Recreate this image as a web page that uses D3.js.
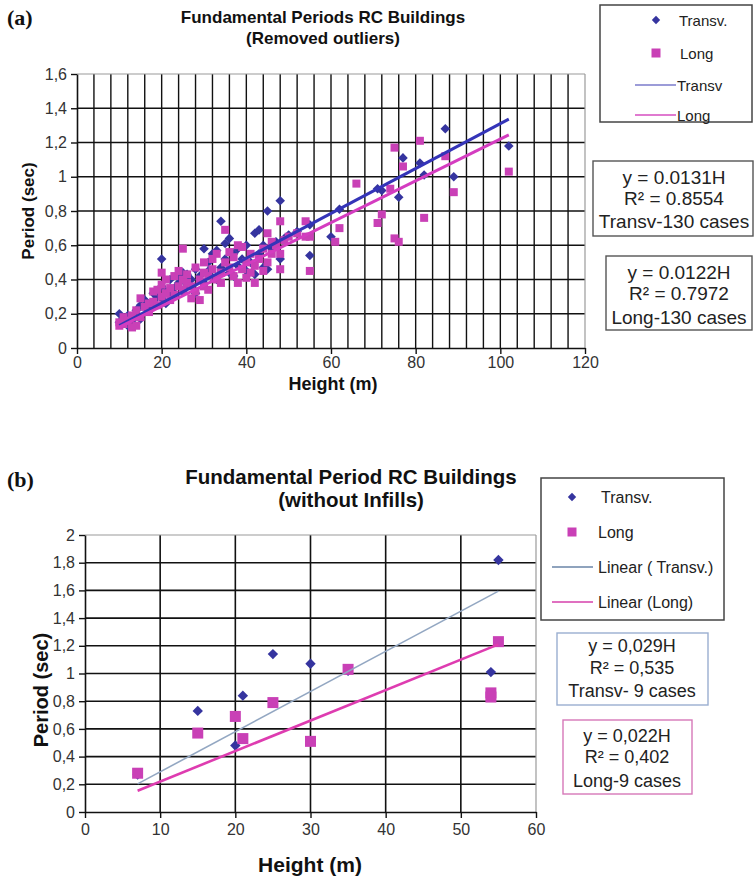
<!DOCTYPE html>
<html><head><meta charset="utf-8">
<script src="https://cdn.jsdelivr.net/npm/d3@7/dist/d3.min.js"></script>
<style>body{margin:0;background:#fff}</style>
</head><body>
<script>
// ---------- Panel (a): 130 buildings, outliers removed ----------
const transvA = [
  [10,0.20],[10,0.15],[11,0.17],[12,0.13],[12,0.19],[13,0.16],[14,0.22],[15,0.17],[15,0.25],[16,0.28],
  [17,0.24],[18,0.32],[18,0.27],[19,0.30],[20,0.36],[20,0.52],[20,0.29],[21,0.33],[21,0.26],[22,0.40],
  [22,0.31],[23,0.35],[24,0.38],[24,0.42],[25,0.44],[25,0.33],[26,0.37],[26,0.43],[27,0.40],[28,0.32],
  [28,0.46],[29,0.42],[30,0.58],[30,0.38],[31,0.45],[31,0.50],[32,0.41],[32,0.55],[33,0.57],[33,0.40],
  [34,0.74],[34,0.47],[35,0.61],[35,0.52],[36,0.64],[36,0.44],[37,0.42],[37,0.55],[38,0.48],[38,0.58],
  [39,0.52],[40,0.45],[40,0.60],[41,0.50],[42,0.67],[42,0.43],[43,0.69],[43,0.55],[44,0.47],[44,0.60],
  [45,0.80],[45,0.46],[46,0.58],[47,0.62],[48,0.86],[48,0.52],[49,0.64],[50,0.66],[52,0.68],[55,0.54],
  [55,0.72],[60,0.65],[62,0.81],[71,0.93],[72,0.92],[76,0.88],[77,1.11],[81,1.08],[82,1.01],[87,1.28],
  [89,1.00],[102,1.18]
];
const longA = [
  [10,0.15],[10,0.13],[11,0.18],[11,0.14],[12,0.16],[13,0.19],[13,0.12],[14,0.13],[14,0.22],[15,0.29],
  [15,0.18],[16,0.24],[17,0.26],[17,0.21],[18,0.33],[18,0.27],[19,0.34],[19,0.25],[20,0.44],[20,0.30],
  [20,0.37],[21,0.32],[21,0.40],[22,0.35],[22,0.28],[23,0.31],[23,0.42],[24,0.36],[24,0.45],[25,0.58],
  [25,0.40],[25,0.34],[26,0.38],[26,0.43],[27,0.29],[27,0.36],[28,0.47],[28,0.33],[29,0.40],[29,0.28],
  [30,0.50],[30,0.36],[30,0.44],[31,0.42],[31,0.34],[32,0.46],[32,0.52],[33,0.40],[33,0.55],[34,0.44],
  [34,0.38],[35,0.69],[35,0.50],[36,0.47],[36,0.56],[37,0.42],[37,0.53],[38,0.38],[38,0.60],[39,0.59],
  [39,0.46],[40,0.50],[40,0.41],[41,0.55],[41,0.44],[42,0.48],[42,0.38],[43,0.52],[44,0.45],[44,0.58],
  [45,0.67],[45,0.50],[46,0.62],[46,0.55],[47,0.60],[48,0.74],[48,0.55],[48,0.46],[49,0.63],[50,0.65],
  [52,0.67],[54,0.74],[54,0.65],[55,0.45],[55,0.65],[61,0.62],[62,0.70],[66,0.96],[71,0.73],[72,0.78],
  [74,0.93],[75,1.17],[75,0.64],[76,0.62],[77,1.06],[81,1.21],[82,0.76],[87,1.12],[89,0.91],[102,1.03]
];
const slopeTransvA = 0.0131, slopeLongA = 0.0122;
const fitRangeA = [10, 102];
const xTicksA = [0, 20, 40, 60, 80, 100, 120];
const yTicksA = [0, 0.2, 0.4, 0.6, 0.8, 1, 1.2, 1.4, 1.6];
const yTickLabelsA = ["0", "0,2", "0,4", "0,6", "0,8", "1", "1,2", "1,4", "1,6"];
const eqTransvA = ["y = 0.0131H", "R\u00B2 = 0.8554", "Transv-130 cases"];
const eqLongA = ["y = 0.0122H", "R\u00B2 = 0.7972", "Long-130 cases"];

// ---------- Panel (b): buildings without infills ----------
const transvB = [[7,0.27],[15,0.73],[20,0.48],[21,0.84],[25,1.14],[30,1.07],[35,1.02],[54,1.01],[55,1.82]];
const longB = [[7,0.28],[15,0.57],[20,0.69],[21,0.53],[25,0.79],[30,0.51],[35,1.03],[54,0.86],[54,0.83],[55,1.23]];
const slopeTransvB = 0.029, slopeLongB = 0.022;
const fitRangeB = [7, 55];
const xTicksB = [0, 10, 20, 30, 40, 50, 60];
const yTicksB = [0, 0.2, 0.4, 0.6, 0.8, 1, 1.2, 1.4, 1.6, 1.8, 2];
const yTickLabelsB = ["0", "0,2", "0,4", "0,6", "0,8", "1", "1,2", "1,4", "1,6", "1,8", "2"];
const eqTransvB = ["y = 0,029H", "R\u00B2 = 0,535", "Transv- 9 cases"];
const eqLongB = ["y = 0,022H", "R\u00B2 = 0,402", "Long-9 cases"];

const BLUE = "#35349f", PINK = "#c940b6";
const NARROW = "'Liberation Sans Narrow','Arial Narrow','Liberation Sans',Arial,sans-serif";
const SANS = "'Liberation Sans',Arial,sans-serif";

const svg = d3.select("body").append("svg").attr("width", 754).attr("height", 879);

// square-cornered diamond (a square turned 45 degrees) of half-diagonal r
const diamondPath = r => `M0,${-r}L${r},0L0,${r}L${-r},0Z`;

function panel(o) {
  const x = d3.scaleLinear().domain(o.xDomain).range([o.left, o.right]);
  const y = d3.scaleLinear().domain(o.yDomain).range([o.bottom, o.top]);
  const g = svg.append("g");

  // grid
  g.selectAll(".vg").data(o.xGrid).join("line")
    .attr("x1", d => x(d)).attr("x2", d => x(d)).attr("y1", o.top).attr("y2", o.bottom)
    .attr("stroke", "#111").attr("stroke-width", o.gridW);
  g.selectAll(".hg").data(o.yTicks.slice(1, -1)).join("line")
    .attr("x1", o.left).attr("x2", o.right).attr("y1", d => y(d)).attr("y2", d => y(d))
    .attr("stroke", "#111").attr("stroke-width", o.gridW);
  // light frame top/right
  g.append("line").attr("x1", o.left).attr("x2", o.right).attr("y1", o.top).attr("y2", o.top)
    .attr("stroke", "#9a9a9a").attr("stroke-width", 1.2);
  g.append("line").attr("x1", o.right).attr("x2", o.right).attr("y1", o.top).attr("y2", o.bottom)
    .attr("stroke", "#9a9a9a").attr("stroke-width", 1.2);

  // axes
  const ax = g.append("g").attr("transform", `translate(0,${o.bottom})`)
    .call(d3.axisBottom(x).tickValues(o.xTicks).tickSize(6).tickSizeOuter(0).tickPadding(o.xPad));
  const ay = g.append("g").attr("transform", `translate(${o.left},0)`)
    .call(d3.axisLeft(y).tickValues(o.yTicks).tickFormat((d, i) => o.yLabels[i]).tickSize(6).tickSizeOuter(0).tickPadding(4));
  [ax, ay].forEach(a => {
    a.select(".domain").attr("stroke", "#111").attr("stroke-width", 1.6);
    a.selectAll(".tick line").attr("stroke", "#111").attr("stroke-width", 1.4);
    a.selectAll(".tick text").attr("fill", "#333").style("font-family", NARROW).style("font-size", o.tickFont + "px");
  });

  // markers
  g.selectAll(".t").data(o.transv).join("path")
    .attr("d", diamondPath(o.dia)).attr("transform", d => `translate(${x(d[0])},${y(d[1])})`)
    .attr("fill", BLUE);
  g.selectAll(".l").data(o.long).join("rect")
    .attr("x", d => x(d[0]) - o.sq / 2).attr("y", d => y(d[1]) - o.sq / 2)
    .attr("width", o.sq).attr("height", o.sq).attr("fill", PINK);

  // linear fits through origin
  const fit = (s, col, w) => g.append("line")
    .attr("x1", x(o.fitRange[0])).attr("y1", y(s * o.fitRange[0]))
    .attr("x2", x(o.fitRange[1])).attr("y2", y(s * o.fitRange[1]))
    .attr("stroke", col).attr("stroke-width", w);
  fit(o.slopeT, o.fitTColor, o.fitTW);
  fit(o.slopeL, o.fitLColor, o.fitLW);
}

panel({
  left: 77, right: 585, top: 74, bottom: 348,
  xDomain: [0, 120], yDomain: [0, 1.6],
  xGrid: d3.range(4, 120, 4), xTicks: xTicksA, yTicks: yTicksA, yLabels: yTickLabelsA,
  gridW: 1.4, tickFont: 16, xPad: 3, dia: 4.8, sq: 8,
  transv: transvA, long: longA, fitRange: fitRangeA,
  slopeT: slopeTransvA, slopeL: slopeLongA,
  fitTColor: "#3434b8", fitTW: 3, fitLColor: "#d43cc0", fitLW: 3
});
panel({
  left: 85, right: 536, top: 535, bottom: 812,
  xDomain: [0, 60], yDomain: [0, 2],
  xGrid: d3.range(10, 60, 10), xTicks: xTicksB, yTicks: yTicksB, yLabels: yTickLabelsB,
  gridW: 1.6, tickFont: 16, xPad: 6, dia: 5.2, sq: 11,
  transv: transvB, long: longB, fitRange: fitRangeB,
  slopeT: slopeTransvB, slopeL: slopeLongB,
  fitTColor: "#93a7c2", fitTW: 1.6, fitLColor: "#de3cb0", fitLW: 2.6
});

// ---------- text: panel letters, titles, axis titles ----------
function txt(x, y, s, font, size, weight, anchor, fill) {
  return svg.append("text").attr("x", x).attr("y", y).text(s)
    .style("font-family", font).style("font-size", size + "px").style("font-weight", weight || "normal")
    .attr("text-anchor", anchor || "start").attr("fill", fill || "#111");
}
txt(7, 25, "(a)", "'Liberation Serif',serif", 22, "bold");
txt(7, 487, "(b)", "'Liberation Serif',serif", 22, "bold");
txt(323, 23, "Fundamental Periods RC Buildings", NARROW, 17, "bold", "middle");
txt(323, 44, "(Removed outliers)", NARROW, 17, "bold", "middle");
txt(351, 484, "Fundamental Period RC Buildings", NARROW, 20.5, "bold", "middle");
txt(351, 507, "(without Infills)", NARROW, 20.5, "bold", "middle");
txt(333, 390, "Height (m)", SANS, 18, "bold", "middle");
txt(310, 872, "Height (m)", SANS, 21, "bold", "middle");
txt(0, 0, "Period (sec)", SANS, 17, "bold", "middle").attr("transform", "translate(34,211) rotate(-90)");
txt(0, 0, "Period (sec)", SANS, 20, "bold", "middle").attr("transform", "translate(48,690) rotate(-90)");

// ---------- legends ----------
function legend(box, items) {
  svg.append("rect").attr("x", box[0]).attr("y", box[1]).attr("width", box[2]).attr("height", box[3])
    .attr("fill", "#fff").attr("stroke", "#444").attr("stroke-width", 1.5);
  items.forEach(it => {
    if (it.kind === "dia") {
      svg.append("path").attr("d", diamondPath(4.2))
        .attr("transform", `translate(${it.mx},${it.y})`).attr("fill", BLUE);
    } else if (it.kind === "sq") {
      svg.append("rect").attr("x", it.mx - 4.5).attr("y", it.y - 4.5).attr("width", 9).attr("height", 9).attr("fill", PINK);
    } else {
      svg.append("line").attr("x1", it.mx[0]).attr("x2", it.mx[1]).attr("y1", it.y).attr("y2", it.y)
        .attr("stroke", it.color).attr("stroke-width", 2);
    }
    txt(it.tx, it.y, it.label, NARROW, it.size, "normal", "start", "#222").attr("dominant-baseline", "central");
  });
}
legend([600, 5, 152, 117], [
  { kind: "dia", mx: 656, y: 20, tx: 679, label: "Transv.", size: 15 },
  { kind: "sq", mx: 656, y: 53, tx: 680, label: "Long", size: 15 },
  { kind: "line", mx: [635, 676], y: 85, color: "#9c9cd8", tx: 677, label: "Transv", size: 15 },
  { kind: "line", mx: [635, 676], y: 115, color: "#e07ad0", tx: 677, label: "Long", size: 15 }
]);
legend([541, 478, 183, 142], [
  { kind: "dia", mx: 572, y: 497, tx: 601, label: "Transv.", size: 16 },
  { kind: "sq", mx: 572, y: 532, tx: 598, label: "Long", size: 16 },
  { kind: "line", mx: [552, 593], y: 567, color: "#8fa3bd", tx: 598, label: "Linear ( Transv.)", size: 16 },
  { kind: "line", mx: [552, 593], y: 602, color: "#e070c0", tx: 598, label: "Linear (Long)", size: 16 }
]);

// ---------- regression equation boxes ----------
function eqBox(box, stroke, lines, cx, baselines, size) {
  svg.append("rect").attr("x", box[0]).attr("y", box[1]).attr("width", box[2]).attr("height", box[3])
    .attr("fill", "#fff").attr("stroke", stroke).attr("stroke-width", 1.4);
  lines.forEach((s, i) => txt(cx, baselines[i], s, SANS, size, "normal", "middle", "#222"));
}
eqBox([593, 161, 160, 75], "#555", eqTransvA, 674, [184, 205, 228], 19);
eqBox([606, 256, 146, 74], "#555", eqLongA, 679, [279, 300, 324], 19);
eqBox([557, 633, 151, 72], "#9aaed0", eqTransvB, 632, [652, 674, 697], 18);
eqBox([563, 720, 129, 74], "#d678b8", eqLongB, 627, [742, 763, 787], 18);
</script>
</body></html>
